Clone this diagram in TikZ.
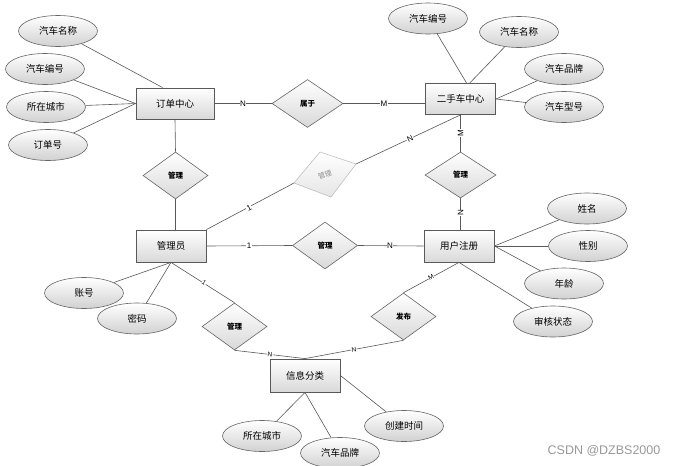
\documentclass[tikz,border=0pt]{standalone}
\usepackage{fontspec}
\setmainfont{Liberation Sans}
\newfontfamily\cjk{Noto Sans CJK SC}
\usetikzlibrary{shapes.geometric,backgrounds,calc}
\begin{document}
\begin{tikzpicture}[x=1pt,y=-1pt,
  attr/.style={ellipse,draw=black!60,line width=0.6pt,top color=white,bottom color=black!18,minimum width=79pt,minimum height=31pt,inner sep=0pt,font=\cjk\fontsize{9.5}{11}\selectfont},
  ent/.style={rectangle,draw=black!65,line width=0.8pt,top color=white,bottom color=black!15,minimum height=31pt,inner sep=0pt,font=\cjk\fontsize{9.5}{11}\selectfont},
  rel/.style={diamond,draw=black!60,line width=0.6pt,top color=white,bottom color=black!15,minimum width=65pt,minimum height=47pt,inner sep=0pt,font=\cjk\bfseries\fontsize{7.5}{9}\selectfont},
  conn/.style={draw=black!65,line width=0.6pt},
  card/.style={fill=white,inner sep=0.5pt,font=\fontsize{8}{9}\selectfont},
  smallcard/.style={fill=white,inner sep=0.3pt,font=\fontsize{6.5}{7}\selectfont},
]
\useasboundingbox (0,0) rectangle (678,466);
% entities
\node[ent,minimum width=78pt] (dd) at (175,103.5) {订单中心};
\node[ent,minimum width=70pt] (es) at (460.5,99) {二手车中心};
\node[ent,minimum width=70pt,minimum height=32pt] (gly) at (171,246) {管理员};
\node[ent,minimum width=70pt,minimum height=32pt] (yh) at (459,246) {用户注册};
\node[ent,minimum width=70pt,minimum height=33pt] (xx) at (305,375.5) {信息分类};
% attributes
\node[attr] (a1) at (58,31) {汽车名称};
\node[attr] (a2) at (45,69) {汽车编号};
\node[attr] (a3) at (46,107) {所在城市};
\node[attr] (a4) at (48,145) {订单号};
\node[attr] (b1) at (428,18.5) {汽车编号};
\node[attr] (b2) at (519,32) {汽车名称};
\node[attr] (b3) at (564,69) {汽车品牌};
\node[attr] (b4) at (564,107) {汽车型号};
\node[attr] (c1) at (587,208.5) {姓名};
\node[attr] (c2) at (588,246) {性别};
\node[attr] (c3) at (564,283.5) {年龄};
\node[attr] (c4) at (553,321.5) {审核状态};
\node[attr] (d1) at (84,293) {账号};
\node[attr] (d2) at (137,318.5) {密码};
\node[attr] (e1) at (262,436) {所在城市};
\node[attr] (e2) at (340,453) {汽车品牌};
\node[attr] (e3) at (404,426) {创建时间};
% relations
\node[rel,minimum width=71pt,minimum height=48pt] (r1) at (307.5,103.5) {属于};
\node[rel] (r2) at (175.5,175.5) {管理};
\node[rel,minimum width=71pt,minimum height=46pt] (r3) at (460.5,175) {管理};
\node[rel] (r4) at (325,245.5) {管理};
\node[rel] (r5) at (234.5,326.5) {管理};
\node[rel] (r6) at (403.5,316.5) {发布};
% faded relation
\coordinate (gL) at (294,183);
\coordinate (gT) at (320,152);
\coordinate (gR) at (356,164);
\coordinate (gB) at (331,197);
\path[draw=black!25,line width=0.6pt,top color=white,bottom color=black!10] (gL)--(gT)--(gR)--(gB)--cycle;
\node[text=black!45,rotate=20,font=\cjk\fontsize{7}{8}\selectfont] (gtxt) at (325,174.5) {管理};
% connectors
\begin{scope}[on background layer]
\fill[white] (0,0) rectangle (678,466);
\draw[conn] (dd.128) -- (a1);
\draw[conn] (dd.west) -- (a2);
\draw[conn] (dd.west) -- (a3);
\draw[conn] (dd.west) -- (a4);
\draw[conn] (dd.east) -- (r1.west);
\draw[conn] (r1.east) -- (r1.east -| es.west);
\draw[conn] (dd.south) -- (r2.north);
\draw[conn] (r2.south) -- (r2.south |- gly.north);
\draw[conn] (gly.north east) -- (gL);
\draw[conn] (gR) -- (es.south);
\draw[conn] (es.69) -- (b1);
\draw[conn] (es.60) -- (b2);
\draw[conn] (es.east) -- (b3);
\draw[conn] (es.east) -- (b4);
\draw[conn] (es.south) -- (r3.north);
\draw[conn] (r3.south) -- (r3.south |- yh.north);
\draw[conn] (gly.east) -- (r4.west);
\draw[conn] (r4.east) -- (yh.west);
\draw[conn] (yh.east) -- (c1);
\draw[conn] (yh.east) -- (c2);
\draw[conn] (yh.east) -- (c3);
\draw[conn] (yh.south) -- (c4);
\draw[conn] (yh.south) -- (r6.north);
\draw[conn] (r6.south) -- (xx.north);
\draw[conn] (gly.south) -- (d1);
\draw[conn] (gly.south) -- (d2);
\draw[conn] (gly.south) -- (r5.north);
\draw[conn] (r5.south) -- (xx.north);
\draw[conn] (xx.south) -- (e1);
\draw[conn] (xx.south) -- (e2);
\draw[conn] (xx.east) -- (e3);
\end{scope}
% cardinalities
\node[card] (l1) at (243,103.5) {N};
\node[card] (l2) at (384,103.5) {M};
\node[card,rotate=28] (l3) at (249,208) {1};
\node[card,rotate=25] (l4) at (410,139) {N};
\node[card,rotate=90] (l5) at (460.5,133) {M};
\node[card,rotate=90] (l6) at (460.5,213) {N};
\node[card] (l7) at (249,246) {1};
\node[card] (l8) at (390,246) {N};
\node[smallcard,rotate=-34] (l9) at (204,283) {1};
\node[smallcard,rotate=-7] (l10) at (270,355) {N};
\node[smallcard,rotate=11] (l11) at (354,350) {N};
\node[smallcard,rotate=28] (l12) at (431,277) {M};
\node[text=black!40,font=\fontsize{12.5}{14}\selectfont] (wm) at (604,451) {CSDN @DZBS2000};
\end{tikzpicture}
\end{document}
